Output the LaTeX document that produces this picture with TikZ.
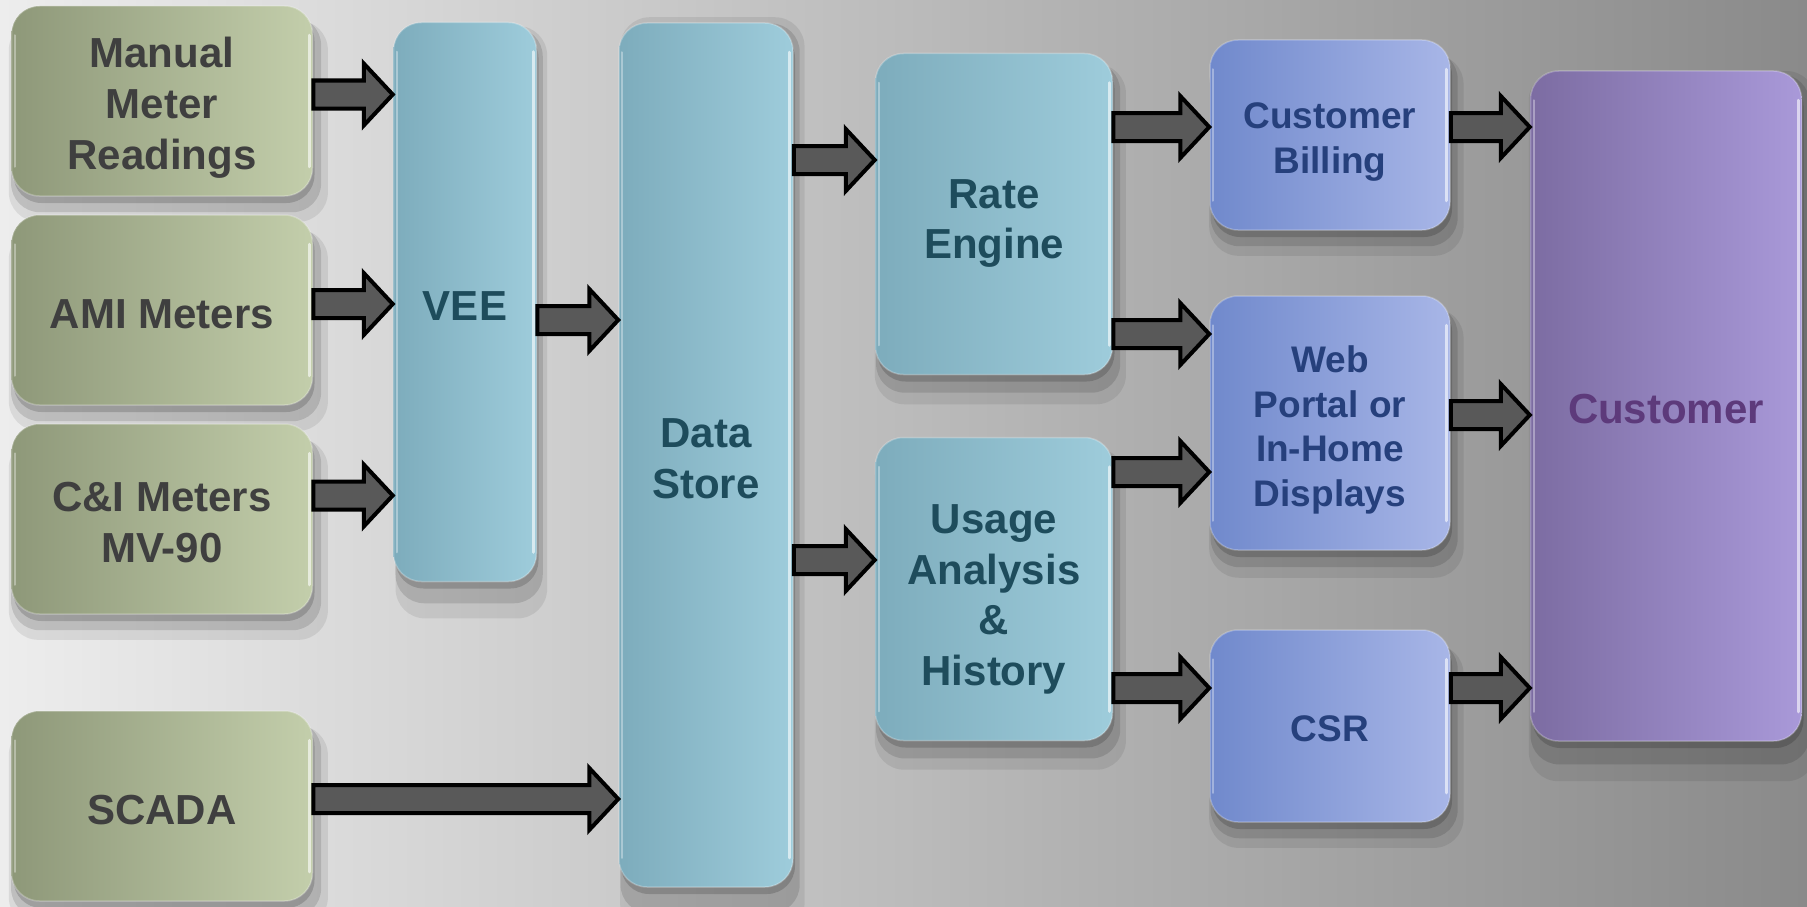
\documentclass[tikz,border=0pt]{standalone}
\usepackage{fontspec}
\setmainfont{Liberation Sans}
\usetikzlibrary{calc,shadows}
\definecolor{bgL}{HTML}{EDEDED}
\definecolor{bgM}{HTML}{BBBBBB}
\definecolor{bgR}{HTML}{8A8A8A}
\definecolor{gL}{HTML}{8E9879}
\definecolor{gR}{HTML}{C3CEAB}
\definecolor{tL}{HTML}{7DACBC}
\definecolor{tR}{HTML}{9ECCDB}
\definecolor{bL}{HTML}{7089CC}
\definecolor{bR}{HTML}{A8B6E7}
\definecolor{pL}{HTML}{7C6CA2}
\definecolor{pR}{HTML}{A999D9}
\definecolor{gtxt}{HTML}{3F3F3F}
\definecolor{ttxt}{HTML}{1E4C5C}
\definecolor{btxt}{HTML}{26407C}
\definecolor{ptxt}{HTML}{5D3A7B}
\definecolor{arrfill}{HTML}{595959}
\newcommand{\tup}[1]{\rule{0pt}{#1pt}}
\tikzset{
  shd/.style={
    drop shadow={shadow xshift=2pt,shadow yshift=-7pt,opacity=.16,fill=black},
    drop shadow={shadow xshift=4pt,shadow yshift=-13pt,opacity=.12,fill=black,shadow scale=1.03},
    drop shadow={shadow xshift=6pt,shadow yshift=-19pt,opacity=.08,fill=black,shadow scale=1.06}},
  boxbase/.style={shd,rectangle,rounded corners=28pt,inner sep=0pt,align=center,
    font=\bfseries\fontsize{42}{50.7}\selectfont,
    draw=white,draw opacity=.25,line width=1.5pt},
  greenbox/.style={boxbase,left color=gL,right color=gR,text=gtxt},
  tealbox/.style={boxbase,left color=tL,right color=tR,text=ttxt},
  bluebox/.style={boxbase,left color=bL,right color=bR,text=btxt,
    font=\bfseries\fontsize{37}{44.6}\selectfont},
  purplebox/.style={boxbase,left color=pL,right color=pR,text=ptxt},
  blockarrow/.style={fill=arrfill,draw=black,line width=4pt,line join=miter},
  rimR/.style={draw=white,draw opacity=.6,line width=3pt,line cap=round},
  rimL/.style={draw=white,draw opacity=.35,line width=2pt,line cap=round}
}
\newcommand{\barrow}[2]{%
  \draw[blockarrow] let \p1=(#1), \p2=(#2) in
    (\x1,\y1+14pt) -- (\x2-29pt,\y1+14pt) -- (\x2-29pt,\y1+31pt) -- (\x2,\y1)
    -- (\x2-29pt,\y1-31pt) -- (\x2-29pt,\y1-14pt) -- (\x1,\y1-14pt) -- cycle;}
\begin{document}
\begin{tikzpicture}[x=1pt,y=-1pt]
\useasboundingbox (0,0) rectangle (1807,907);
\shade[left color=bgL,right color=bgR,middle color=bgM] (0,0) rectangle (1807,907);
% boxes
\node[greenbox,minimum width=301pt,minimum height=190pt] (man) at (162,101) {\tup{44}Manual\\Meter\\Readings};
\node[greenbox,minimum width=301pt,minimum height=190pt] (ami) at (162,310) {\tup{38}AMI Meters};
\node[greenbox,minimum width=301pt,minimum height=190pt] (ci) at (162,519) {\tup{36}C\&I Meters\\MV-90};
\node[greenbox,minimum width=301pt,minimum height=190pt] (scada) at (162,806) {\tup{38}SCADA};
\node[tealbox,minimum width=143pt,minimum height=559pt] (vee) at (465,302) {\tup{36}VEE};
\node[tealbox,minimum width=174pt,minimum height=864pt] (ds) at (706,455) {\tup{36}Data\\Store};
\node[tealbox,minimum width=237pt,minimum height=321pt] (rate) at (994,214) {\tup{48}Rate\\Engine};
\node[tealbox,minimum width=237pt,minimum height=303pt] (usage) at (994,589) {\tup{50}Usage\\Analysis\\\&\\History};
\node[bluebox,minimum width=240pt,minimum height=190pt] (bill) at (1330,135) {\tup{40}Customer\\Billing};
\node[bluebox,minimum width=240pt,minimum height=254pt] (web) at (1330,423) {\tup{41}Web\\Portal or\\In-Home\\Displays};
\node[bluebox,minimum width=240pt,minimum height=192pt] (csr) at (1330,726) {\tup{31}CSR};
\node[purplebox,minimum width=271pt,minimum height=670pt] (cust) at (1666,406) {\tup{36}Customer};
% glossy rims
\foreach \n in {man,ami,ci,scada,vee,ds,rate,usage,bill,web,csr,cust}{
  \draw[rimR] ([xshift=-4pt,yshift=-30pt]\n.north east) -- ([xshift=-4pt,yshift=30pt]\n.south east);
  \draw[rimL] ([xshift=4pt,yshift=-30pt]\n.north west) -- ([xshift=4pt,yshift=30pt]\n.south west);
}
% connectors
\barrow{man.east |- 0,94.5}{vee.west |- 0,94.5}
\barrow{ami.east |- 0,304}{vee.west |- 0,304}
\barrow{ci.east |- 0,495.5}{vee.west |- 0,495.5}
\barrow{vee.east |- 0,320}{ds.west |- 0,320}
\barrow{scada.east |- 0,799}{ds.west |- 0,799}
\barrow{ds.east |- 0,160}{rate.west |- 0,160}
\barrow{ds.east |- 0,560}{usage.west |- 0,560}
\barrow{rate.east |- 0,127}{bill.west |- 0,127}
\barrow{rate.east |- 0,334}{web.west |- 0,334}
\barrow{usage.east |- 0,472}{web.west |- 0,472}
\barrow{usage.east |- 0,688}{csr.west |- 0,688}
\barrow{bill.east |- 0,127}{cust.west |- 0,127}
\barrow{web.east |- 0,415}{cust.west |- 0,415}
\barrow{csr.east |- 0,688}{cust.west |- 0,688}
\end{tikzpicture}
\end{document}
